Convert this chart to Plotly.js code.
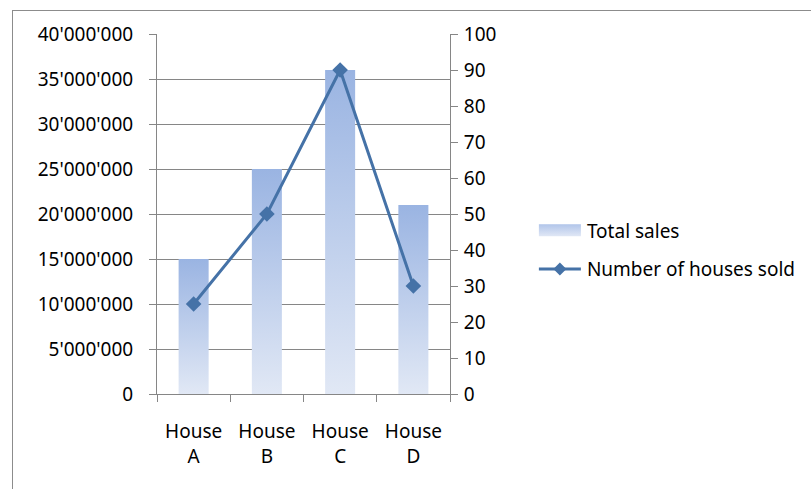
<!DOCTYPE html>
<html><head><meta charset="utf-8">
<script src="https://cdn.plot.ly/plotly-3.0.1.min.js"></script>
<style>
html,body{margin:0;padding:0;background:#fff;overflow:hidden;}
#chart{width:811px;height:489px;}
#frame{position:absolute;left:12px;top:10px;width:820px;height:500px;border:1px solid #8c8c8c;pointer-events:none;}
</style></head>
<body>
<div id="chart"></div>
<div id="frame"></div>
<script>
const categories = ["House<br>A", "House<br>B", "House<br>C", "House<br>D"];
const totalSales = [15000000, 25000000, 36000000, 21000000];
const housesSold = [25, 50, 90, 30];
const salesTicks = [0, 5000000, 10000000, 15000000, 20000000, 25000000, 30000000, 35000000, 40000000];

const font = {family: "Noto Sans, Liberation Sans, sans-serif", size: 19, color: "#000"};
const lineColor = "#4572a7";

const traces = [
  {type: "bar", name: "Total sales", x: categories, y: totalSales, legendgroup: "a",
   marker: {color: "#b7c9ea", line: {width: 0}}, yaxis: "y", hoverinfo: "skip"},
  {type: "scatter", mode: "lines+markers", name: "Number of houses sold", x: categories, y: housesSold,
   legendgroup: "b",
   line: {color: lineColor, width: 3}, marker: {symbol: "diamond", size: 12, color: lineColor},
   yaxis: "y2", hoverinfo: "skip"}
];

const layout = {
  width: 811, height: 489,
  margin: {l: 157, r: 361, t: 34, b: 95},
  paper_bgcolor: "#fff", plot_bgcolor: "#fff",
  separators: ".'",
  font: font,
  bargap: 0.59,
  showlegend: true,
  legend: {xref: "container", yref: "container", x: 0.662, y: 0.489, xanchor: "left", yanchor: "middle",
           font: {family: font.family, size: 19, color: "#000"},
           traceorder: "grouped", tracegroupgap: 11, itemwidth: 40},
  xaxis: {type: "category", tickson: "boundaries", ticks: "outside", ticklen: 7, tickcolor: "#868686",
          showline: true, linecolor: "#868686", linewidth: 1, showgrid: false, tickfont: font, zeroline: false,
          ticklabelstandoff: 20},
  yaxis: {range: [0, 40000000], tickvals: salesTicks, tickformat: ",d", ticks: "outside", ticklen: 7,
          tickcolor: "#868686", showline: true, linecolor: "#868686", gridcolor: "#868686", gridwidth: 1,
          zeroline: false, tickfont: font, ticklabelstandoff: 12},
  yaxis2: {range: [0, 100], dtick: 10, overlaying: "y", side: "right", ticks: "outside", ticklen: 7,
           tickcolor: "#868686", showline: true, linecolor: "#868686", showgrid: false, zeroline: false,
           tickfont: font, ticklabelstandoff: 2}
};

Plotly.newPlot("chart", traces, layout, {displayModeBar: false, staticPlot: true}).then(function(gd){
  const svg = gd.querySelector("svg.main-svg");
  const ns = "http://www.w3.org/2000/svg";
  let defs = svg.querySelector("defs");
  if (!defs) { defs = document.createElementNS(ns, "defs"); svg.insertBefore(defs, svg.firstChild); }
  function addGrad(id, c0, c1) {
    const grad = document.createElementNS(ns, "linearGradient");
    grad.setAttribute("id", id);
    grad.setAttribute("x1", "0"); grad.setAttribute("y1", "0");
    grad.setAttribute("x2", "0"); grad.setAttribute("y2", "1");
    [["0%", c0], ["100%", c1]].forEach(function(s){
      const st = document.createElementNS(ns, "stop");
      st.setAttribute("offset", s[0]); st.setAttribute("stop-color", s[1]);
      grad.appendChild(st);
    });
    defs.appendChild(grad);
  }
  addGrad("barGrad", "#9ab4e2", "#e1e8f5");
  addGrad("legGrad", "#b1c5ea", "#e0e7f5");
  gd.querySelectorAll(".barlayer .point path").forEach(function(p){ p.style.fill = "url(#barGrad)"; });

  gd.querySelectorAll(".legend g.traces").forEach(function(g){
    const t = g.querySelector("text.legendtext");
    if (!t) return;
    const tx = parseFloat(t.getAttribute("x")) || 40;
    g.querySelectorAll(".legendpoints path, .legendlines path, path.legendbar").forEach(function(p){ p.style.display = "none"; });
    const x0 = tx - 48, w = 42;
    if (t.textContent.indexOf("Total") === 0) {
      const r = document.createElementNS(ns, "rect");
      r.setAttribute("x", x0); r.setAttribute("y", -6); r.setAttribute("width", w); r.setAttribute("height", 12);
      r.setAttribute("fill", "url(#legGrad)");
      g.appendChild(r);
    } else {
      const l = document.createElementNS(ns, "path");
      l.setAttribute("d", "M" + x0 + ",0h" + w);
      l.setAttribute("stroke", lineColor); l.setAttribute("stroke-width", 3); l.setAttribute("fill", "none");
      g.appendChild(l);
      const m = document.createElementNS(ns, "path");
      const cx = x0 + w / 2;
      m.setAttribute("d", "M" + (cx - 6.5) + ",0L" + cx + ",-6.5L" + (cx + 6.5) + ",0L" + cx + ",6.5Z");
      m.setAttribute("fill", lineColor);
      g.appendChild(m);
    }
  });
});
</script>
</body></html>
